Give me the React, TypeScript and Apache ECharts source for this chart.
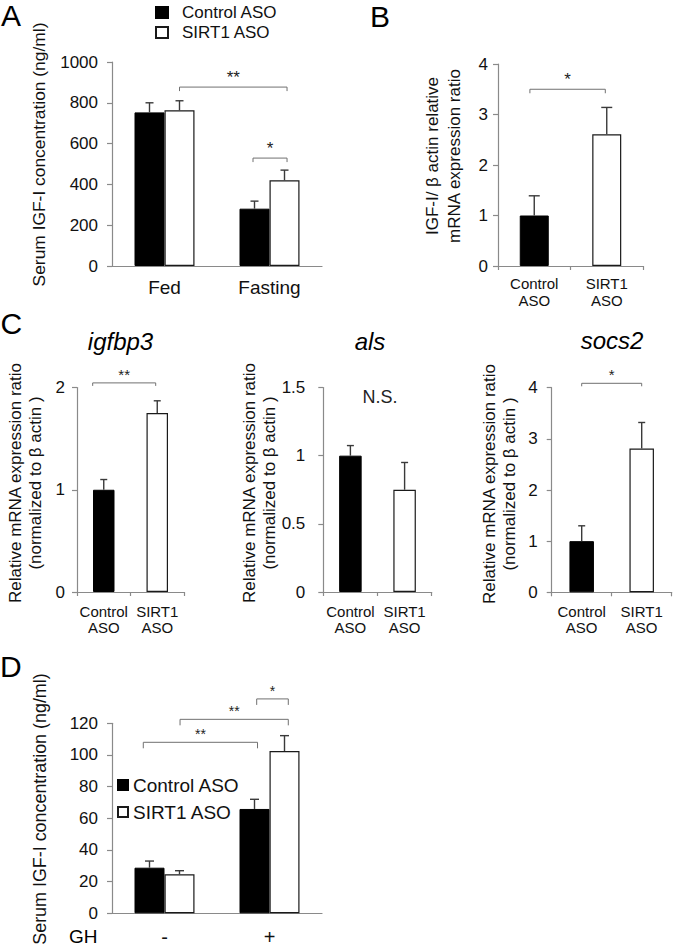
import React, { useEffect, useRef } from 'react';
import * as echarts from 'echarts';

const FONT = '"Liberation Sans", Arial, Helvetica, sans-serif';
const SERIES_NAMES = ['Control ASO', 'SIRT1 ASO'];

type Sig = { from: number; to: number; y: number; label: string; line?: boolean };

// ---- Panel A ----
const A_CATEGORIES = ['Fed', 'Fasting'];
const A_CONTROL = [753, 281];
const A_CONTROL_ERR = [47, 37];
const A_SIRT1 = [763, 420];
const A_SIRT1_ERR = [47, 50];
const A_Y_TICKS = [0, 200, 400, 600, 800, 1000];
const A_SIG: Sig[] = [
  { from: 0.143, to: 1.167, y: 877, label: '**' },
  { from: 0.843, to: 1.167, y: 529, label: '*' },
];

// ---- Panel B ----
const B_CATEGORIES = ['Control\nASO', 'SIRT1\nASO'];
const B_VALUES = [1.0, 2.61];
const B_ERR = [0.39, 0.53];
const B_Y_TICKS = [0, 1, 2, 3, 4];
const B_SIG: Sig[] = [{ from: -0.06, to: 0.98, y: 3.5, label: '*' }];

// ---- Panel C ----
const C_CATEGORIES = ['Control\nASO', 'SIRT1\nASO'];
const C_GENES = ['igfbp3', 'als', 'socs2'];
const C_IGFBP3 = [1.0, 1.75];
const C_IGFBP3_ERR = [0.1, 0.12];
const C_IGFBP3_TICKS = [0, 1, 2];
const C_IGFBP3_SIG: Sig[] = [{ from: -0.207, to: 0.971, y: 2.045, label: '**' }];
const C_ALS = [1.0, 0.75];
const C_ALS_ERR = [0.074, 0.2];
const C_ALS_TICKS = [0, 0.5, 1, 1.5];
const C_ALS_SIG: Sig[] = [{ from: 0.546, to: 0.546, y: 1.43, label: 'N.S.', line: false }];
const C_SOCS2 = [1.0, 2.81];
const C_SOCS2_ERR = [0.3, 0.51];
const C_SOCS2_TICKS = [0, 1, 2, 3, 4];
const C_SOCS2_SIG: Sig[] = [{ from: 0, to: 1, y: 4.086, label: '*' }];

// ---- Panel D ----
const D_CATEGORIES = ['-', '+'];
const D_CONTROL = [28.8, 65.9];
const D_CONTROL_ERR = [4.2, 6.1];
const D_SIRT1 = [24.6, 102.5];
const D_SIRT1_ERR = [2.3, 9.7];
const D_Y_TICKS = [0, 20, 40, 60, 80, 100, 120];
const D_SIG: Sig[] = [
  { from: -0.202, to: 0.886, y: 108, label: '**' },
  { from: 0.148, to: 1.179, y: 122.5, label: '**' },
  { from: 0.878, to: 1.179, y: 135.4, label: '*' },
];

const AXIS_COLOR = '#8a8a8a';
const ERR_COLOR = '#3a3a3a';
const SIG_COLOR = '#707070';
const TEXT_COLOR = '#111';
const BLACK_STYLE = { color: '#000', borderColor: '#000', borderWidth: 1 };
const WHITE_STYLE = { color: '#fff', borderColor: '#1a1a1a', borderWidth: 1.2 };

const CONC_NAME = 'Serum IGF-I concentration (ng/ml)';
const B_NAME = 'IGF-I/ \u03b2 actin relative\nmRNA expression ratio';
const C_NAME = 'Relative mRNA expression ratio\n(normalized to \u03b2 actin )';

function xAxisFor(gridIndex: number, data: string[], showTicks: boolean, fontSize: number, lineHeight: number, margin: number) {
  return {
    type: 'category',
    gridIndex,
    data,
    axisLine: { show: true, lineStyle: { color: AXIS_COLOR, width: 1.2 } },
    axisTick: { show: showTicks, length: 4, alignWithLabel: false, lineStyle: { color: AXIS_COLOR, width: 1.2 } },
    axisLabel: { interval: 0, fontSize, lineHeight, margin, color: TEXT_COLOR, fontFamily: FONT },
    splitLine: { show: false },
  };
}

function yAxisFor(gridIndex: number, ticks: number[], labelMargin: number, labelSize: number) {
  return {
    type: 'value',
    gridIndex,
    min: ticks[0],
    max: ticks[ticks.length - 1],
    interval: ticks[1] - ticks[0],
    axisLine: { show: true, lineStyle: { color: AXIS_COLOR, width: 1.2 } },
    axisTick: { show: true, length: 5, lineStyle: { color: AXIS_COLOR, width: 1.2 } },
    splitLine: { show: false },
    axisLabel: {
      margin: labelMargin,
      fontSize: labelSize,
      color: TEXT_COLOR,
      fontFamily: FONT,
      formatter: (v: number) => String(v),
    },
  };
}

function errorSeries(gridIndex: number, values: number[], errs: number[], offset: number, cap: number) {
  return {
    type: 'custom',
    xAxisIndex: gridIndex,
    yAxisIndex: gridIndex,
    silent: true,
    z: 5,
    encode: { x: 0, y: 1 },
    data: values.map((v, i) => [i, v, errs[i]]),
    renderItem: (_params: any, api: any) => {
      const c = api.value(0);
      const v = api.value(1);
      const e = api.value(2);
      const p0 = api.coord([c, v]);
      const p1 = api.coord([c, v + e]);
      const x = p0[0] + offset;
      const style = { stroke: ERR_COLOR, lineWidth: 1.4 };
      return {
        type: 'group',
        children: [
          { type: 'line', shape: { x1: x, y1: p0[1], x2: x, y2: p1[1] }, style },
          { type: 'line', shape: { x1: x - cap / 2, y1: p1[1], x2: x + cap / 2, y2: p1[1] }, style },
        ],
      };
    },
  };
}

function sigSeries(gridIndex: number, sig: Sig[], tickLen: number, fontSize: number) {
  return {
    type: 'custom',
    xAxisIndex: gridIndex,
    yAxisIndex: gridIndex,
    silent: true,
    clip: false,
    z: 6,
    encode: { x: 0, y: 1 },
    data: sig.map((s) => [0, s.y, s.from, s.to]),
    renderItem: (params: any, api: any) => {
      const s = sig[params.dataIndex];
      const base = api.coord([0, api.value(1)]);
      const bw = api.size([1, 0])[0];
      const x1 = base[0] + api.value(2) * bw;
      const x2 = base[0] + api.value(3) * bw;
      const y = base[1];
      const children: any[] = [];
      if (s.line !== false) {
        children.push({
          type: 'polyline',
          shape: { points: [[x1, y + tickLen], [x1, y], [x2, y], [x2, y + tickLen]] },
          style: { stroke: SIG_COLOR, lineWidth: 1, fill: 'none' },
        });
        children.push({
          type: 'text',
          style: {
            text: s.label,
            x: (x1 + x2) / 2,
            y: y - 1,
            align: 'center',
            verticalAlign: 'bottom',
            fontSize,
            fontFamily: FONT,
            fill: '#222',
          },
        });
      } else {
        children.push({
          type: 'text',
          style: {
            text: s.label,
            x: (x1 + x2) / 2,
            y,
            align: 'center',
            verticalAlign: 'middle',
            fontSize,
            fontFamily: FONT,
            fill: '#222',
          },
        });
      }
      return { type: 'group', children };
    },
  };
}

function groupedBars(gridIndex: number, control: number[], sirt1: number[], barWidth: number) {
  return [
    {
      type: 'bar',
      name: SERIES_NAMES[0],
      xAxisIndex: gridIndex,
      yAxisIndex: gridIndex,
      data: control,
      barWidth,
      barGap: '0%',
      itemStyle: BLACK_STYLE,
      z: 2,
    },
    {
      type: 'bar',
      name: SERIES_NAMES[1],
      xAxisIndex: gridIndex,
      yAxisIndex: gridIndex,
      data: sirt1,
      barWidth,
      barGap: '0%',
      itemStyle: WHITE_STYLE,
      z: 2,
    },
  ];
}

function pairBars(gridIndex: number, name: string, values: number[], barWidth: number) {
  return {
    type: 'bar',
    name,
    xAxisIndex: gridIndex,
    yAxisIndex: gridIndex,
    barWidth,
    z: 2,
    data: values.map((v, i) => ({ value: v, itemStyle: i === 0 ? BLACK_STYLE : WHITE_STYLE })),
  };
}

function letter(text: string, x: number, y: number) {
  return {
    type: 'text',
    x,
    y,
    style: { text, fontSize: 30, fontFamily: FONT, fill: '#000', align: 'left', verticalAlign: 'middle' },
  };
}

function geneTitle(text: string, x: number, y: number) {
  return {
    type: 'text',
    x,
    y,
    style: {
      text,
      fontSize: 24,
      fontStyle: 'italic',
      fontFamily: FONT,
      fill: '#000',
      align: 'center',
      verticalAlign: 'middle',
    },
  };
}

function axisName(text: string, x: number, y: number, fontSize: number, lineHeight: number) {
  return {
    type: 'text',
    x,
    y,
    rotation: Math.PI / 2,
    style: {
      text,
      fontSize,
      lineHeight,
      fontFamily: FONT,
      fill: TEXT_COLOR,
      align: 'center',
      verticalAlign: 'middle',
    },
  };
}

export default function App() {
  const ref = useRef<HTMLDivElement>(null);

  useEffect(() => {
    if (!ref.current) return;
    const chart = echarts.init(ref.current, undefined, { renderer: 'svg' });

    const gridBase = { outerBoundsMode: 'none', containLabel: false };
    const option: any = {
      animation: false,
      backgroundColor: '#fff',
      textStyle: { fontFamily: FONT },
      grid: [
        { ...gridBase, left: 112, top: 62, width: 210, height: 204 },
        { ...gridBase, left: 498, top: 64, width: 145, height: 202 },
        { ...gridBase, left: 77, top: 387.5, width: 107, height: 204.5 },
        { ...gridBase, left: 323.3, top: 387.5, width: 108.4, height: 204.5 },
        { ...gridBase, left: 551.7, top: 387.7, width: 120, height: 204.6 },
        { ...gridBase, left: 112, top: 723.3, width: 210, height: 190 },
      ],
      xAxis: [
        xAxisFor(0, A_CATEGORIES, false, 19, 20, 11.5),
        xAxisFor(1, B_CATEGORIES, true, 15, 17, 8.5),
        xAxisFor(2, C_CATEGORIES, true, 15, 16, 11),
        xAxisFor(3, C_CATEGORIES, true, 15, 16, 11),
        xAxisFor(4, C_CATEGORIES, true, 15, 16, 11),
        xAxisFor(5, D_CATEGORIES, false, 20, 20, 13.5),
      ],
      yAxis: [
        yAxisFor(0, A_Y_TICKS, 14, 17),
        yAxisFor(1, B_Y_TICKS, 10, 17),
        yAxisFor(2, C_IGFBP3_TICKS, 12, 17),
        yAxisFor(3, C_ALS_TICKS, 18, 17),
        yAxisFor(4, C_SOCS2_TICKS, 14, 17),
        yAxisFor(5, D_Y_TICKS, 14, 17),
      ],
      legend: [
        {
          data: SERIES_NAMES,
          orient: 'vertical',
          left: 155,
          top: 4,
          padding: 0,
          icon: 'rect',
          itemWidth: 12,
          itemHeight: 11,
          itemGap: 3,
          selectedMode: false,
          textStyle: { fontSize: 17, color: TEXT_COLOR, fontFamily: FONT, padding: [0, 0, 0, 9] },
        },
        {
          data: SERIES_NAMES,
          orient: 'vertical',
          left: 117,
          top: 775.5,
          padding: 0,
          icon: 'rect',
          itemWidth: 10,
          itemHeight: 10,
          itemGap: 8,
          selectedMode: false,
          textStyle: { fontSize: 19, color: TEXT_COLOR, fontFamily: FONT },
        },
      ],
      series: [
        ...groupedBars(0, A_CONTROL, A_SIRT1, 30),
        errorSeries(0, A_CONTROL, A_CONTROL_ERR, -15, 8),
        errorSeries(0, A_SIRT1, A_SIRT1_ERR, 15, 8),
        sigSeries(0, A_SIG, 4, 17),

        pairBars(1, 'IGF-I', B_VALUES, 29),
        errorSeries(1, B_VALUES, B_ERR, 0, 11),
        sigSeries(1, B_SIG, 4, 17),

        pairBars(2, C_GENES[0], C_IGFBP3, 21.5),
        errorSeries(2, C_IGFBP3, C_IGFBP3_ERR, 0, 7),
        sigSeries(2, C_IGFBP3_SIG, 3, 15),

        pairBars(3, C_GENES[1], C_ALS, 22.5),
        errorSeries(3, C_ALS, C_ALS_ERR, 0, 7),
        sigSeries(3, C_ALS_SIG, 3, 18),

        pairBars(4, C_GENES[2], C_SOCS2, 24.5),
        errorSeries(4, C_SOCS2, C_SOCS2_ERR, 0, 7),
        sigSeries(4, C_SOCS2_SIG, 3, 15),

        ...groupedBars(5, D_CONTROL, D_SIRT1, 30),
        errorSeries(5, D_CONTROL, D_CONTROL_ERR, -15, 9),
        errorSeries(5, D_SIRT1, D_SIRT1_ERR, 15, 9),
        sigSeries(5, D_SIG, 6, 14),
      ],
      graphic: [
        letter('A', 1, 15.5),
        letter('B', 370, 16),
        letter('C', 0.5, 323),
        letter('D', 0, 666),
        geneTitle(C_GENES[0], 120.5, 341),
        geneTitle(C_GENES[1], 370, 341),
        geneTitle(C_GENES[2], 612, 340),
        axisName(CONC_NAME, 39, 154.5, 17.4, 18),
        axisName(B_NAME, 443.3, 156, 17, 21.5),
        axisName(C_NAME, 25.8, 483, 17, 20),
        axisName(C_NAME, 259.5, 483, 17, 20),
        axisName(C_NAME, 499.3, 484, 17, 20),
        axisName(CONC_NAME, 40, 809, 17.9, 18),
        {
          type: 'text',
          x: 69,
          y: 936.7,
          style: { text: 'GH', fontSize: 19, fontFamily: FONT, fill: '#000', align: 'left', verticalAlign: 'middle' },
        },
      ],
    };

    chart.setOption(option);
    return () => chart.dispose();
  }, []);

  return (
    <div
      ref={ref}
      style={{ position: 'absolute', left: 0, top: 0, width: 674, height: 949, background: '#fff' }}
    />
  );
}
